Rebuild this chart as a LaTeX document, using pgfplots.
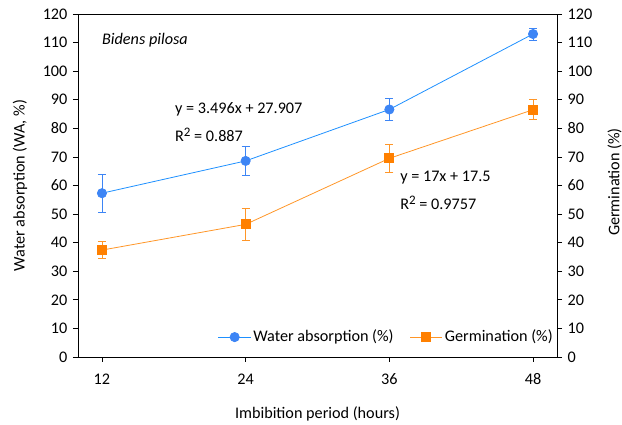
\documentclass[border=0pt]{standalone}
\usepackage{pgfplots}
\pgfplotsset{compat=1.18}
\usepackage{fontspec}
\setmainfont{Carlito}
\definecolor{wablue}{RGB}{61,133,245}
\definecolor{walineblue}{RGB}{30,144,255}
\definecolor{gorange}{RGB}{255,128,0}
\definecolor{glineorange}{RGB}{255,150,40}

\pgfplotstableread{
x y ep em
12 57.3 6.5 6.8
24 68.6 5.1 5.1
36 86.6 3.9 3.9
48 113.0 2.0 2.1
}\wadata
\pgfplotstableread{
x y ep em
12 37.4 2.9 3.0
24 46.4 5.5 5.5
36 69.5 5.0 5.0
48 86.5 3.5 3.4
}\gdata

\newcommand{\rsq}{R\raisebox{5.5pt}{\fontsize{13}{13}\selectfont 2}}

\begin{document}
\fontsize{16.2}{19}\selectfont
\begin{tikzpicture}
\path[use as bounding box] (-78pt,-68pt) rectangle (544pt,357pt);
\begin{axis}[
  scale only axis, width=479pt, height=343pt,
  xmin=10, xmax=50, ymin=0, ymax=120,
  xtick={12,24,36,48}, ytick={0,10,...,120},
  xtick pos=bottom, ytick pos=left,
  tick align=outside, major tick length=5pt,
  tick style={black, line width=0.8pt},
  axis line style={black, line width=0.8pt},
  /pgf/number format/assume math mode=true,
  xticklabel style={yshift=-6pt},
  xlabel={Imbibition period (hours)},
  xlabel style={at={(axis description cs:0.5,-0.165)}, anchor=center},
  ylabel={Water absorption (WA, \%)},
  ylabel style={at={(axis description cs:-0.121,0.5)}, anchor=center},
  clip=false,
  legend style={at={(rel axis cs:1.002,0.058)}, anchor=east, draw=none, fill=none,
    legend columns=2, /tikz/every even column/.append style={column sep=14pt},
    font=\fontsize{16.2}{19}\selectfont},
  legend cell align=left,
  legend image code/.code={\draw[mark repeat=2,mark phase=2] plot coordinates {(0cm,0cm) (0.57cm,0cm) (1.14cm,0cm)};},
]
\addplot[walineblue, line width=0.8pt, mark=*, mark size=4.6pt,
  mark options={draw=wablue, fill=wablue},
  error bars/.cd, y dir=both, y explicit,
  error bar style={wablue, line width=0.8pt},
  error mark options={rotate=90, mark size=4pt, wablue, line width=0.8pt}]
  table[x=x, y=y, y error plus=ep, y error minus=em] {\wadata};
\addlegendentry{Water absorption (\%)}
\addplot[glineorange, line width=0.8pt, mark=square*, mark size=4.5pt,
  mark options={draw=gorange, fill=gorange},
  error bars/.cd, y dir=both, y explicit,
  error bar style={glineorange, line width=0.8pt},
  error mark options={rotate=90, mark size=4pt, glineorange, line width=0.8pt}]
  table[x=x, y=y, y error plus=ep, y error minus=em] {\gdata};
\addlegendentry{Germination (\%)}
\node[anchor=west, inner sep=0, font=\itshape] at (axis cs:12,110.9) {Bidens pilosa};
\node[anchor=west, inner sep=0] at (axis cs:18.1,86.8) {y = 3.496x + 27.907};
\node[anchor=west, inner sep=0] at (axis cs:18.1,77.7) {\rsq{} = 0.887};
\node[anchor=west, inner sep=0] at (axis cs:36.9,62.6) {y = 17x + 17.5};
\node[anchor=west, inner sep=0] at (axis cs:36.9,53.9) {\rsq{} = 0.9757};
\end{axis}
\begin{axis}[
  scale only axis, width=479pt, height=343pt,
  xmin=10, xmax=50, ymin=0, ymax=120,
  axis x line=none, axis y line*=right,
  ytick={0,10,...,120},
  tick align=outside, major tick length=5pt,
  tick style={black, line width=0.8pt},
  axis line style={black, line width=0.8pt},
  /pgf/number format/assume math mode=true,
  ylabel={Germination (\%)},
  ylabel style={at={(axis description cs:1.120,0.51)}, anchor=center, rotate=0},
]
\addplot[draw=none] coordinates {(12,0)};
\end{axis}
\end{tikzpicture}
\end{document}
